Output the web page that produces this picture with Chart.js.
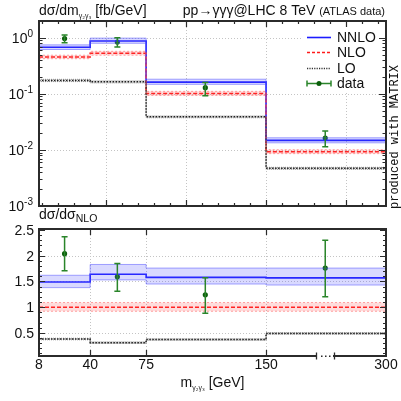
<!DOCTYPE html>
<html>
<head>
<meta charset="utf-8">
<script src="https://cdn.jsdelivr.net/npm/chart.js@4.4.1/dist/chart.umd.min.js"></script>
<style>
  html, body { margin: 0; padding: 0; background: #fff; }
  #wrap { position: relative; width: 401px; height: 401px; overflow: hidden; }
  canvas { position: absolute; left: 0; }
  #top { top: 0; }
  #bot { top: 200px; }
</style>
</head>
<body>
<div id="wrap">
  <canvas id="top" width="401" height="214" style="width:401px;height:214px"></canvas>
  <canvas id="bot" width="401" height="201" style="width:401px;height:201px"></canvas>
</div>
<script>
// bins of m(γ2γ3) in GeV
const binEdges = [8, 40, 75, 150, 300];
const binLabels = ["8", "40", "75", "150", "300"];

// dσ/dm [fb/GeV]
const nnlo   = [0.68, 0.88, 0.162, 0.0148];
const nnloLo = [0.62, 0.80, 0.148, 0.0134];
const nnloHi = [0.75, 0.99, 0.183, 0.0165];
const nlo    = [0.455, 0.53, 0.102, 0.0093];
const nloLo  = [0.425, 0.49, 0.094, 0.0086];
const nloHi  = [0.49, 0.575, 0.111, 0.0101];
const lo     = [0.174, 0.164, 0.039, 0.0047];
const loLo   = [0.166, 0.157, 0.0375, 0.0045];
const loHi   = [0.182, 0.171, 0.0405, 0.0049];

// ATLAS data
const dataM   = [24, 57, 112, 224];
const dataVal = [0.97, 0.84, 0.129, 0.0163];
const dataLo  = [0.82, 0.69, 0.093, 0.0114];
const dataHi  = [1.13, 1.00, 0.160, 0.0217];

// ratios to NLO
const rNnlo   = [1.49, 1.64, 1.58, 1.57];
const rNnloLo = [1.38, 1.53, 1.45, 1.43];
const rNnloHi = [1.62, 1.83, 1.76, 1.76];
const rNlo    = [1, 1, 1, 1];
const rNloLo  = [0.92, 0.92, 0.92, 0.92];
const rNloHi  = [1.09, 1.09, 1.09, 1.09];
const rLo     = [0.38, 0.31, 0.37, 0.49];
const rLoLo   = [0.365, 0.295, 0.355, 0.475];
const rLoHi   = [0.395, 0.325, 0.385, 0.505];
const rData   = [2.04, 1.59, 1.24, 1.76];
const rDataLo = [1.71, 1.31, 0.88, 1.20];
const rDataHi = [2.37, 1.85, 1.57, 2.30];

const FONT = '"Liberation Sans", Arial, sans-serif';
const BLUE = "#1c1cff";
const RED = "#ff1a1a";
const GREEN = "#2a852a";
const FRAME = "#2b2b2b";

// the axis is broken above 150 GeV, last bin drawn at half width
const BREAK = 150;
const ax = (m) => (m <= BREAK ? m : BREAK + (m - BREAK) / 2);

const steps = (vals) =>
  binEdges.map((e, i) => ({ x: ax(e), y: vals[Math.min(i, vals.length - 1)] }));

const stepLine = (vals, color, width, dash, extra) =>
  Object.assign(
    {
      data: steps(vals),
      borderColor: color,
      borderWidth: width,
      borderDash: dash || [],
      stepped: "before",
      pointRadius: 0,
      fill: false,
    },
    extra
  );

function seriesSets(s) {
  return [
    stepLine(s.loLo, "rgba(70,70,70,0.55)", 1, [1, 1]),
    stepLine(s.loHi, "rgba(70,70,70,0.55)", 1, [1, 1], { fill: "-1", backgroundColor: "rgba(0,0,0,0.10)" }),
    stepLine(s.nloLo, "rgba(255,80,80,0.5)", 1, [2, 2]),
    stepLine(s.nloHi, "rgba(255,80,80,0.5)", 1, [2, 2], { fill: "-1", backgroundColor: "rgba(255,80,80,0.2)" }),
    stepLine(s.nnloLo, "rgba(80,80,255,0.5)", 1),
    stepLine(s.nnloHi, "rgba(80,80,255,0.5)", 1, [], { fill: "-1", backgroundColor: "rgba(80,80,255,0.22)" }),
    stepLine(s.lo, "#222", 1.5, [1.5, 1.5]),
    stepLine(s.nlo, RED, 1.5, [4, 2]),
    stepLine(s.nnlo, BLUE, 1.6),
    {
      data: dataM.map((m, i) => ({ x: ax(m), y: s.pts[i] })),
      showLine: false,
      pointRadius: 2.6,
      pointBackgroundColor: "#0b5e0b",
      pointBorderWidth: 0,
    },
  ];
}

// text made of runs with their own size and vertical shift
function rich(ctx, parts, x, y, align) {
  let w = 0;
  parts.forEach((p) => {
    ctx.font = p.size + "px " + FONT;
    w += ctx.measureText(p.t).width;
  });
  let cx = align === "right" ? x - w : align === "center" ? x - w / 2 : x;
  ctx.textAlign = "left";
  ctx.textBaseline = "alphabetic";
  parts.forEach((p) => {
    ctx.font = p.size + "px " + FONT;
    ctx.fillText(p.t, cx, y + (p.dy || 0));
    cx += ctx.measureText(p.t).width;
  });
}

function grid(chart, xs, ys) {
  const { ctx, chartArea: a, scales } = chart;
  ctx.save();
  ctx.strokeStyle = "#c4c4c4";
  ctx.lineWidth = 1;
  ctx.setLineDash([1, 2]);
  ctx.beginPath();
  xs.forEach((v) => {
    const p = Math.round(scales.x.getPixelForValue(v)) + 0.5;
    ctx.moveTo(p, a.top);
    ctx.lineTo(p, a.bottom);
  });
  ys.forEach((v) => {
    const p = Math.round(scales.y.getPixelForValue(v)) + 0.5;
    ctx.moveTo(a.left, p);
    ctx.lineTo(a.right, p);
  });
  ctx.stroke();
  ctx.restore();
}

function errorBars(chart, lo, hi) {
  const { ctx, scales } = chart;
  ctx.save();
  ctx.strokeStyle = GREEN;
  ctx.lineWidth = 1.5;
  ctx.beginPath();
  dataM.forEach((m, i) => {
    const px = scales.x.getPixelForValue(ax(m));
    const y1 = scales.y.getPixelForValue(lo[i]);
    const y2 = scales.y.getPixelForValue(hi[i]);
    ctx.moveTo(px, y1);
    ctx.lineTo(px, y2);
    ctx.moveTo(px - 3, y1);
    ctx.lineTo(px + 3, y1);
    ctx.moveTo(px - 3, y2);
    ctx.lineTo(px + 3, y2);
  });
  ctx.stroke();
  ctx.restore();
}

function frameAndTicks(chart, xTicks, yTicks) {
  const { ctx, chartArea: a, scales } = chart;
  ctx.save();
  ctx.strokeStyle = FRAME;
  ctx.lineWidth = 1.2;
  ctx.beginPath();
  xTicks.forEach(([v, len]) => {
    const p = Math.round(scales.x.getPixelForValue(v)) + 0.5;
    ctx.moveTo(p, a.bottom);
    ctx.lineTo(p, a.bottom - len);
    ctx.moveTo(p, a.top);
    ctx.lineTo(p, a.top + len);
  });
  yTicks.forEach(([v, len]) => {
    const p = Math.round(scales.y.getPixelForValue(v)) + 0.5;
    ctx.moveTo(a.left, p);
    ctx.lineTo(a.left + len, p);
    ctx.moveTo(a.right, p);
    ctx.lineTo(a.right - len, p);
  });
  ctx.stroke();
  ctx.lineWidth = 2;
  ctx.strokeRect(a.left, a.top, a.right - a.left, a.bottom - a.top);
  ctx.restore();
}

function legend(ctx) {
  const x0 = 307, x1 = 331, tx = 337;
  ctx.save();
  ctx.fillStyle = "#fff";
  ctx.fillRect(302, 27, 82, 65);
  const rows = [
    { y: 37, label: "NNLO", color: BLUE, dash: [], w: 1.6 },
    { y: 52, label: "NLO", color: RED, dash: [3, 2], w: 1.5 },
    { y: 68, label: "LO", color: "#333", dash: [1.2, 1.2], w: 1.5 },
  ];
  rows.forEach((r) => {
    ctx.strokeStyle = r.color;
    ctx.lineWidth = r.w;
    ctx.setLineDash(r.dash);
    ctx.beginPath();
    ctx.moveTo(x0, r.y + 0.5);
    ctx.lineTo(x1, r.y + 0.5);
    ctx.stroke();
  });
  ctx.setLineDash([]);
  const dy = 83.5;
  ctx.strokeStyle = GREEN;
  ctx.lineWidth = 1.5;
  ctx.beginPath();
  ctx.moveTo(x0, dy);
  ctx.lineTo(x1, dy);
  ctx.moveTo(x0, dy - 3);
  ctx.lineTo(x0, dy + 3);
  ctx.moveTo(x1, dy - 3);
  ctx.lineTo(x1, dy + 3);
  ctx.stroke();
  ctx.fillStyle = "#0b5e0b";
  ctx.beginPath();
  ctx.arc((x0 + x1) / 2, dy, 2.5, 0, Math.PI * 2);
  ctx.fill();
  ctx.fillStyle = "#111";
  ctx.font = "14px " + FONT;
  ctx.textBaseline = "middle";
  ctx.textAlign = "left";
  rows.forEach((r) => ctx.fillText(r.label, tx, r.y + 1));
  ctx.fillText("data", tx, dy + 1);
  ctx.restore();
}

// tick lists: [value, length]
const topXTicks = [];
for (let v = 10; v <= 220; v += 10) topXTicks.push([v, v % 50 === 0 ? 6 : 3]);
const topYTicks = [];
for (let d = -3; d <= 0; d++) {
  topYTicks.push([Math.pow(10, d), 7]);
  for (let k = 2; k <= 9; k++) {
    const v = k * Math.pow(10, d);
    if (v < 2) topYTicks.push([v, 3.5]);
  }
}
const botXTicks = [[40, 6], [75, 6], [150, 6]];
const botYTicks = [];
for (let i = 1; i <= 25; i++) botYTicks.push([i / 10, i % 5 === 0 ? 6 : 3]);

const topDecor = {
  id: "topDecor",
  beforeDatasetsDraw(chart) {
    grid(chart, [50, 100, 150, 200], [1, 0.1, 0.01]);
  },
  afterDatasetsDraw(chart) {
    errorBars(chart, dataLo, dataHi);
  },
  afterDraw(chart) {
    const { ctx, scales } = chart;
    legend(ctx);
    frameAndTicks(chart, topXTicks, topYTicks);
    ctx.save();
    ctx.fillStyle = "#111";
    [0, -1, -2, -3].forEach((d) => {
      const p = scales.y.getPixelForValue(Math.pow(10, d));
      rich(ctx, [{ t: "10", size: 14 }, { t: d === 0 ? "0" : "-" + -d, size: 10, dy: -6 }], 33, p + 5, "right");
    });
    rich(ctx, [
      { t: "dσ/dm", size: 14 },
      { t: "γ₂γ₃", size: 7, dy: 3 },
      { t: " [fb/GeV]", size: 14 },
    ], 39, 15, "left");
    rich(ctx, [
      { t: "pp→γγγ@LHC 8 TeV ", size: 14 },
      { t: "(ATLAS data)", size: 11 },
    ], 385, 15, "right");
    ctx.translate(395, 137);
    ctx.rotate(-Math.PI / 2);
    ctx.font = '12px "Liberation Mono", "DejaVu Sans Mono", monospace';
    ctx.textAlign = "center";
    ctx.textBaseline = "middle";
    ctx.fillText("produced with MATRIX", 0, 0);
    ctx.restore();
  },
};

const botDecor = {
  id: "botDecor",
  beforeDatasetsDraw(chart) {
    grid(chart, [40, 75, 150], [0.5, 1, 1.5, 2]);
  },
  afterDatasetsDraw(chart) {
    errorBars(chart, rDataLo, rDataHi);
  },
  afterDraw(chart) {
    const { ctx, chartArea: a, scales } = chart;
    frameAndTicks(chart, botXTicks, botYTicks);
    ctx.save();
    // axis break between 150 and 300
    const yb = a.bottom;
    ctx.fillStyle = "#fff";
    ctx.fillRect(317, yb - 1.5, 16, 3);
    ctx.strokeStyle = FRAME;
    ctx.lineWidth = 1.3;
    ctx.beginPath();
    ctx.moveTo(316.5, yb - 3.5);
    ctx.lineTo(316.5, yb + 3.5);
    ctx.moveTo(334.5, yb - 3.5);
    ctx.lineTo(334.5, yb + 3.5);
    ctx.stroke();
    ctx.fillStyle = FRAME;
    [321, 325, 329].forEach((x) => ctx.fillRect(x, yb - 0.5, 1.5, 1.5));

    ctx.fillStyle = "#111";
    ctx.font = "14px " + FONT;
    ctx.textAlign = "right";
    ctx.textBaseline = "alphabetic";
    ["0.5", "1", "1.5", "2", "2.5"].forEach((t) => {
      ctx.fillText(t, 34, scales.y.getPixelForValue(parseFloat(t)) + 5);
    });
    ctx.textAlign = "center";
    binEdges.forEach((e, i) => {
      ctx.fillText(binLabels[i], scales.x.getPixelForValue(ax(e)), a.bottom + 12.5);
    });
    rich(ctx, [
      { t: "m", size: 14 },
      { t: "γ₂γ₃", size: 7, dy: 3 },
      { t: " [GeV]", size: 14 },
    ], (a.left + a.right) / 2, a.bottom + 30.5, "center");
    rich(ctx, [
      { t: "dσ/dσ", size: 14 },
      { t: "NLO", size: 10.5, dy: 3 },
    ], 39, a.top - 10, "left");
    ctx.restore();
  },
};

function makeChart(canvas, datasets, yScale, padding, plugin) {
  return new Chart(canvas, {
    type: "line",
    data: { datasets },
    options: {
      responsive: false,
      animation: false,
      events: [],
      layout: { padding },
      plugins: { legend: { display: false }, tooltip: { enabled: false } },
      scales: {
        x: { type: "linear", min: ax(binEdges[0]), max: ax(binEdges[binEdges.length - 1]), display: false },
        y: Object.assign({ display: false }, yScale),
      },
    },
    plugins: [plugin],
  });
}

makeChart(
  document.getElementById("top"),
  seriesSets({ nnlo, nnloLo, nnloHi, nlo, nloLo, nloHi, lo, loLo, loHi, pts: dataVal }),
  { type: "logarithmic", min: 0.001, max: 2 },
  { left: 39, right: 15, top: 21, bottom: 8 },
  topDecor
);

makeChart(
  document.getElementById("bot"),
  seriesSets({
    nnlo: rNnlo, nnloLo: rNnloLo, nnloHi: rNnloHi,
    nlo: rNlo, nloLo: rNloLo, nloHi: rNloHi,
    lo: rLo, loLo: rLoLo, loHi: rLoHi, pts: rData,
  }),
  { type: "linear", min: 0.05, max: 2.52 },
  { left: 39, right: 15, top: 29, bottom: 45 },
  botDecor
);
</script>
</body>
</html>
